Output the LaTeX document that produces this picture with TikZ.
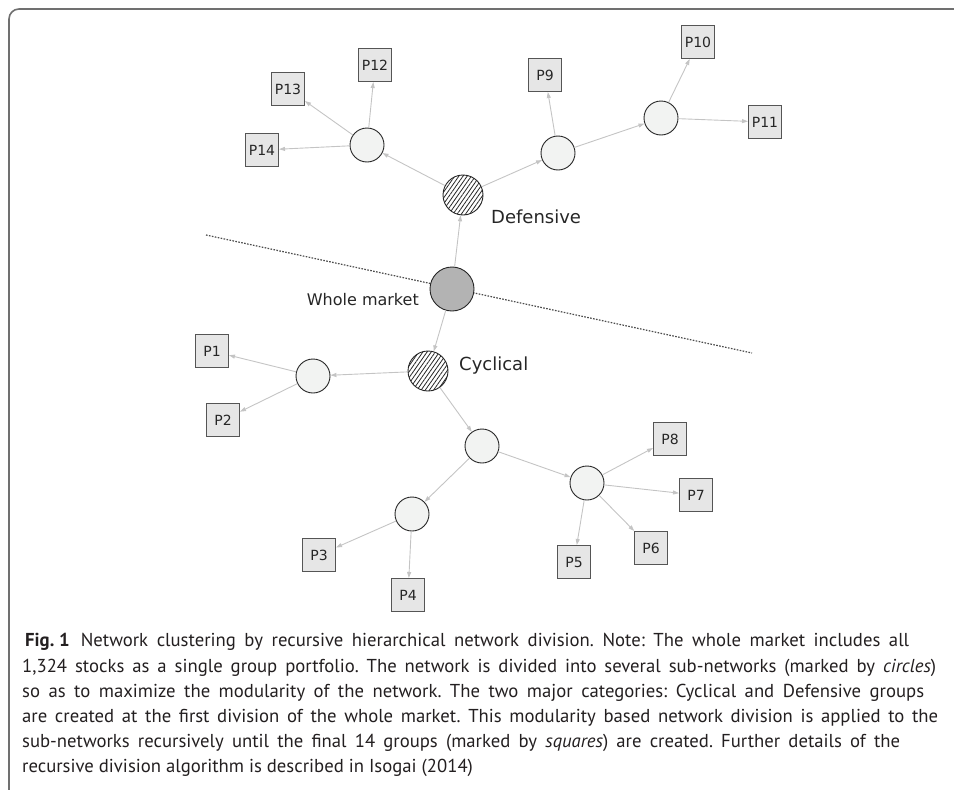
\documentclass[tikz,border=0pt]{standalone}
\usepackage{fontspec}
\setmainfont{DejaVu Sans}
\newfontfamily\capfont{PT Sans}
\usepackage{tikz}
\usetikzlibrary{arrows.meta, patterns.meta}
\definecolor{edgegray}{RGB}{196, 196, 196}
\definecolor{subfill}{RGB}{242, 243, 242}
\definecolor{groupfill}{RGB}{230, 230, 230}
\definecolor{groupline}{RGB}{85, 85, 85}
\definecolor{marketfill}{RGB}{179, 179, 179}
\definecolor{framegray}{RGB}{112, 112, 112}
\definecolor{captext}{RGB}{35, 31, 32}
% one caption line, spread to a given width
\newcommand{\capline}[2]{\hbox to #1{\capfont\fontsize{18.7pt}{25pt}\selectfont\frenchspacing\spaceskip=0.24em plus 0.5em minus 0.1em\relax #2}}

\begin{document}
\begin{tikzpicture}[x=1pt, y=-1pt,
  sub/.style={circle, draw=black!85, fill=subfill, line width=0.9pt, minimum size=34pt, inner sep=0pt},
  cat/.style={circle, draw=black!85, line width=0.9pt, minimum size=40pt, inner sep=0pt, pattern={Lines[angle=55, distance=3.4pt, line width=0.8pt]}, pattern color=black!85},
  grp/.style={rectangle, draw=groupline, fill=groupfill, line width=1pt, minimum size=33pt, inner sep=0pt, font=\fontsize{14}{16}\selectfont, text=black!85},
  edge/.style={-{Triangle[length=6pt, width=4pt]}, edgegray, line width=0.9pt},
  catlabel/.style={inner sep=0pt, font=\fontsize{18}{20}\selectfont, text=black!85},
  captxt/.style={anchor=base west, inner sep=0pt, text=captext}]
\useasboundingbox (0,0) rectangle (954,790);
\draw[framegray, line width=1.6pt, rounded corners=10pt] (9,790) -- (9,9) -- (954,9);

% split between the two categories
\coordinate (s1) at (206,235);
\coordinate (s2) at (752,353);
\draw[black!70, line width=1.2pt, dash pattern=on 1.6pt off 1.4pt] (s1) -- (s2);

\node[circle, draw=black!85, fill=marketfill, line width=0.9pt, minimum size=44pt, inner sep=0pt] (wm) at (452,289) {};
\node[cat] (def) at (463,195) {};
\node[cat] (cyc) at (428,371) {};
\node[catlabel, anchor=base west] at (491,223) {Defensive};
\node[catlabel, anchor=base west] at (459,370) {Cyclical};
\node[catlabel, anchor=base east, font=\fontsize{16}{18}\selectfont] at (419,305) {Whole market};

% sub-networks
\node[sub] (d1) at (367,145) {};
\node[sub] (d2) at (558,153) {};
\node[sub] (d3) at (661,118) {};
\node[sub] (c1) at (313,376) {};
\node[sub] (c2) at (482,446) {};
\node[sub] (c3) at (412,514) {};
\node[sub] (c4) at (587,483) {};

% final groups
\node[grp] (p1) at (212,351) {P1};
\node[grp] (p2) at (223,420) {P2};
\node[grp] (p3) at (319,555) {P3};
\node[grp] (p4) at (408,595) {P4};
\node[grp] (p5) at (574,562) {P5};
\node[grp] (p6) at (651,548) {P6};
\node[grp] (p7) at (696,495) {P7};
\node[grp] (p8) at (670,439) {P8};
\node[grp] (p9) at (545,75) {P9};
\node[grp] (p10) at (698,42) {P10};
\node[grp] (p11) at (765,122) {P11};
\node[grp] (p12) at (375,65) {P12};
\node[grp] (p13) at (288,89) {P13};
\node[grp] (p14) at (262,150) {P14};

\draw[edge] (wm) -- (def);
\draw[edge] (wm) -- (cyc);
\draw[edge] (def) -- (d1);
\draw[edge] (def) -- (d2);
\draw[edge] (d2) -- (d3);
\draw[edge] (d1) -- (p12);
\draw[edge] (d1) -- (p13);
\draw[edge] (d1) -- (p14);
\draw[edge] (d2) -- (p9);
\draw[edge] (d3) -- (p10);
\draw[edge] (d3) -- (p11);
\draw[edge] (cyc) -- (c1);
\draw[edge] (cyc) -- (c2);
\draw[edge] (c1) -- (p1);
\draw[edge] (c1) -- (p2);
\draw[edge] (c2) -- (c3);
\draw[edge] (c2) -- (c4);
\draw[edge] (c3) -- (p3);
\draw[edge] (c3) -- (p4);
\draw[edge] (c4) -- (p5);
\draw[edge] (c4) -- (p6);
\draw[edge] (c4) -- (p7);
\draw[edge] (c4) -- (p8);

% caption
\node[captxt] (cap1) at (25,646) {\capline{884pt}{\textbf{Fig.\hspace{0.25em}1}\hspace{0.6em}Network clustering by recursive hierarchical network division. Note: The whole market includes all}};
\node[captxt] (cap2) at (22,672) {\capline{914pt}{1,324 stocks as a single group portfolio. The network is divided into several sub-networks (marked by \textit{circles})}};
\node[captxt] (cap3) at (22,697) {\capline{902pt}{so as to maximize the modularity of the network. The two major categories: Cyclical and Defensive groups}};
\node[captxt] (cap4) at (22,722) {\capline{916pt}{are created at the first division of the whole market. This modularity based network division is applied to the}};
\node[captxt] (cap5) at (22,747) {\capline{878pt}{sub-networks recursively until the final 14 groups (marked by \textit{squares}) are created. Further details of the}};
\node[captxt] (cap6) at (22,772) {\capfont\fontsize{18.7pt}{25pt}\selectfont recursive division algorithm is described in Isogai (2014)};
\end{tikzpicture}
\end{document}
